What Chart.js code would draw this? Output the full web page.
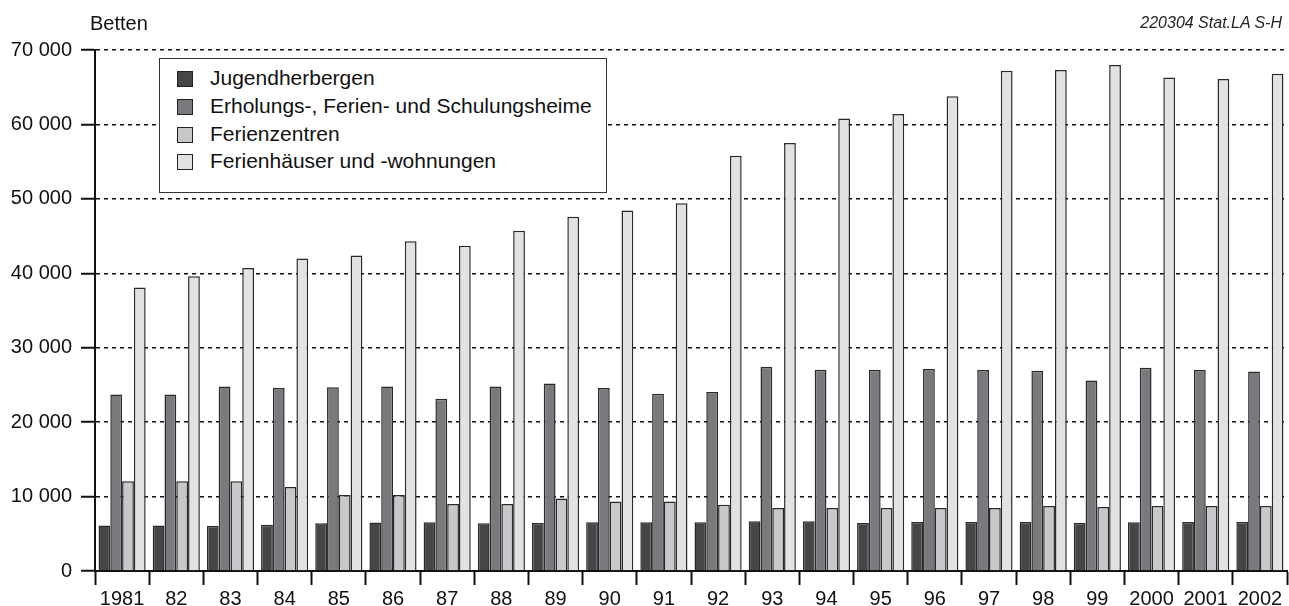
<!DOCTYPE html>
<html>
<head>
<meta charset="utf-8">
<script src="https://cdn.jsdelivr.net/npm/chart.js@4/dist/chart.umd.min.js"></script>
<style>
  body { margin: 0; background: #fff; font-family: "Liberation Sans", Arial, sans-serif; }
  #wrap { position: relative; width: 1289px; height: 606px; }
  #unit { position: absolute; left: 90px; top: 12px; font-size: 20px; line-height: 23px; color: #111; }
  #source { position: absolute; right: 7px; top: 13px; font-size: 16px; line-height: 19px; font-style: italic; color: #222; }
  #legend { position: absolute; left: 159px; top: 58px; width: 448px; height: 135px;
            border: 1px solid #333; background: #fff; box-sizing: border-box; }
  .item { position: absolute; left: 17px; height: 24px; font-size: 21px; color: #111; line-height: 24px; }
  .item span.box { position: absolute; left: 0; top: 5px; width: 14px; height: 14px; border: 1px solid #222; }
  .item span.txt { position: absolute; left: 33px; white-space: nowrap; }
</style>
</head>
<body>
<div id="wrap">
  <canvas id="chart" width="1289" height="606"></canvas>
  <div id="unit">Betten</div>
  <div id="source">220304 Stat.LA S-H</div>
  <div id="legend"></div>
</div>
<script>
const years = ['1981', '82', '83', '84', '85', '86', '87', '88', '89', '90', '91',
               '92', '93', '94', '95', '96', '97', '98', '99', '2000', '2001', '2002'];

const jugendherbergen = [6100, 6100, 6050, 6200, 6400, 6500, 6550, 6400, 6450, 6550, 6550,
                         6550, 6700, 6700, 6450, 6600, 6600, 6600, 6450, 6550, 6600, 6600];
const erholungsheime = [23700, 23700, 24800, 24600, 24700, 24800, 23150, 24800, 25200, 24600, 23800,
                        24050, 27450, 27050, 27050, 27150, 27000, 26900, 25600, 27300, 27000, 26800];
const ferienzentren = [12070, 12070, 12070, 11300, 10200, 10200, 9000, 9000, 9750, 9350, 9350,
                       8900, 8480, 8480, 8480, 8480, 8480, 8750, 8600, 8750, 8750, 8750];
const ferienhaeuser = [38100, 39600, 40700, 42000, 42400, 44300, 43700, 45700, 47600, 48450, 49400,
                       55800, 57500, 60800, 61400, 63800, 67200, 67300, 68000, 66300, 66100, 66800];

const series_labels = ['Jugendherbergen', 'Erholungs-, Ferien- und Schulungsheime',
                       'Ferienzentren', 'Ferienhäuser und -wohnungen'];
const series_colors = ['#464646', '#797a7e', '#c7c8ca', '#e1e2e4'];
const series_values = [jugendherbergen, erholungsheime, ferienzentren, ferienhaeuser];

const y_ticks = [0, 10000, 20000, 30000, 40000, 50000, 60000, 70000];

const font = { family: '"Liberation Sans", Arial, sans-serif', size: 20 };

function format_number(v) {
    return String(v).replace(/\B(?=(\d{3})+(?!\d))/g, ' ');
}

const datasets = series_values.map((values, i) => ({
    label: series_labels[i],
    data: values,
    backgroundColor: series_colors[i],
    borderColor: '#2a2a2a',
    borderWidth: 1.5,
    categoryPercentage: 0.87,
    barPercentage: 1.0
}));

const chart = new Chart(document.getElementById('chart'), {
    type: 'bar',
    data: { labels: years, datasets: datasets },
    options: {
        responsive: false,
        animation: false,
        layout: { padding: { top: 50, right: 2, left: 0, bottom: 0 } },
        plugins: {
            legend: { display: false },
            tooltip: { enabled: false }
        },
        scales: {
            x: {
                afterFit: (scale) => { scale.height = 35; },
                grid: {
                    offset: true,
                    drawOnChartArea: false,
                    tickLength: 14,
                    tickColor: '#111',
                    tickWidth: 2
                },
                border: { display: true, color: '#111', width: 2 },
                ticks: {
                    color: '#111',
                    font: font,
                    padding: 2,
                    autoSkip: false,
                    maxRotation: 0
                }
            },
            y: {
                min: 0,
                max: 70000,
                afterFit: (scale) => { scale.width = 95; },
                afterBuildTicks: (scale) => {
                    scale.ticks = y_ticks.map(v => ({ value: v }));
                },
                grid: {
                    color: '#111',
                    lineWidth: 1.5,
                    tickLength: 14,
                    tickColor: '#111',
                    tickWidth: 2
                },
                border: { display: true, color: '#111', width: 2, dash: [4, 4] },
                ticks: {
                    color: '#111',
                    font: font,
                    padding: 9,
                    callback: (value) => format_number(value)
                }
            }
        }
    }
});

const legend = document.getElementById('legend');
series_labels.forEach((label, i) => {
    const item = document.createElement('div');
    item.className = 'item';
    item.style.top = Math.round(7 + i * 27.8) + 'px';
    item.innerHTML = '<span class="box" style="background:' + series_colors[i] + '"></span>' +
                     '<span class="txt">' + label + '</span>';
    legend.appendChild(item);
});
</script>
</body>
</html>
